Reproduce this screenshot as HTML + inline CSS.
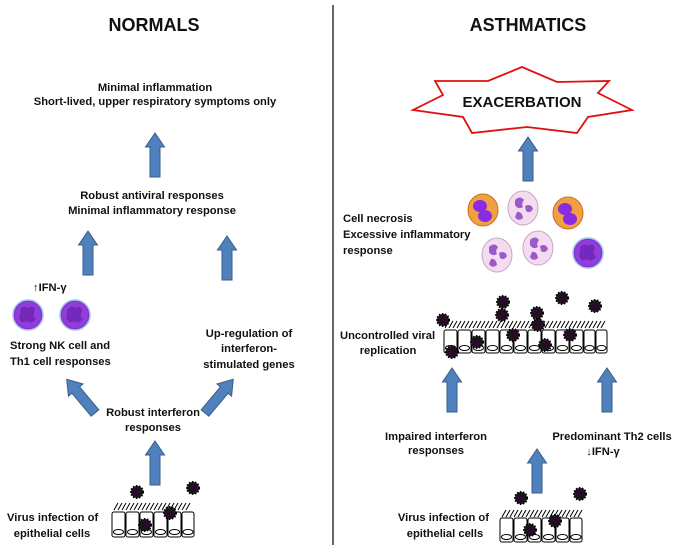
<!DOCTYPE html>
<html><head><meta charset="utf-8"><style>
html,body{margin:0;padding:0;background:#fff}
svg{display:block}
text{font-family:"Liberation Sans",sans-serif;font-weight:bold;fill:#111}
.t{font-size:11.2px}
</style></head><body>
<svg width="685" height="550" viewBox="0 0 685 550" xmlns="http://www.w3.org/2000/svg">
<defs>
<g id="ar"><path d="M-5,0 L-5,-30 L-9.5,-30 L0,-44 L9.5,-30 L5,-30 L5,0 Z" fill="#4f81bd" stroke="#385d8a" stroke-width="1"/></g>
<g id="vir"><circle r="6" fill="#1a1a1a" stroke="#000" stroke-width="2" stroke-dasharray="1.5 1.5"/><circle r="4" fill="#2a0a2a"/></g>
<g id="lym"><circle r="15" fill="#8a2be2" stroke="#9ec9e0" stroke-width="1.5"/><circle r="13" fill="#8f3fd8"/><path d="M-8,-5 q4,-6 8,-2 q6,-4 7,3 q-3,5 1,8 q-5,6 -9,2 q-6,4 -8,-4 q2,-4 1,-7z" fill="#6a1fb0" opacity="0.7"/></g>
<g id="neu"><ellipse rx="15" ry="17" fill="#f3dcef" stroke="#c8a6c4" stroke-width="1"/><path d="M-8,-8 q5,-5 9,0 q-3,4 -1,7 q-5,3 -8,-2z M2,-2 q6,-3 8,3 q-3,5 -7,2z M-6,4 q5,-1 6,6 q-5,4 -8,-1z" fill="#9b59c9"/></g>
<g id="eos"><ellipse rx="15" ry="16" fill="#f0a040" stroke="#c07020" stroke-width="1"/><ellipse cx="-3" cy="-4" rx="7" ry="6" fill="#8a2be2"/><ellipse cx="2" cy="6" rx="7" ry="6" fill="#8a2be2"/></g>
</defs>

<line x1="333" y1="5" x2="333" y2="545" stroke="#000" stroke-width="1.2"/>

<text x="154" y="31" text-anchor="middle" style="font-size:18px">NORMALS</text>
<text x="528" y="31" text-anchor="middle" style="font-size:18px">ASTHMATICS</text>

<!-- LEFT -->
<text class="t" x="155" y="91" text-anchor="middle">Minimal inflammation</text>
<text class="t" x="155" y="105" text-anchor="middle">Short-lived, upper respiratory symptoms only</text>
<use href="#ar" x="155" y="177"/>
<text class="t" x="152" y="199" text-anchor="middle">Robust  antiviral responses</text>
<text class="t" x="152" y="214" text-anchor="middle">Minimal inflammatory response</text>
<use href="#ar" x="88" y="275"/>
<use href="#ar" x="227" y="280"/>
<text class="t" x="33" y="291">↑IFN-γ</text>
<use href="#lym" x="28" y="315"/>
<use href="#lym" x="75" y="315"/>
<text class="t" x="10" y="349">Strong NK cell and</text>
<text class="t" x="10" y="365">Th1 cell responses</text>
<text class="t" x="249" y="337" text-anchor="middle">Up-regulation of</text>
<text class="t" x="249" y="352" text-anchor="middle">interferon-</text>
<text class="t" x="249" y="368" text-anchor="middle">stimulated genes</text>
<use href="#ar" transform="translate(95,413) rotate(-40)"/>
<use href="#ar" transform="translate(205,413) rotate(40)"/>
<text class="t" x="153" y="416" text-anchor="middle">Robust interferon</text>
<text class="t" x="153" y="431" text-anchor="middle">responses</text>
<use href="#ar" x="155" y="485"/>
<text class="t" x="7" y="521">Virus infection of</text>
<text class="t" x="52" y="537" text-anchor="middle">epithelial cells</text>
<g fill="#fff" stroke="#000" stroke-width="1">
<path d="M114,510 l4,-7 M118,510 l4,-7 M122,510 l4,-7 M126,510 l4,-7 M130,510 l4,-7 M134,510 l4,-7 M138,510 l4,-7 M142,510 l4,-7 M146,510 l4,-7 M150,510 l4,-7 M154,510 l4,-7 M158,510 l4,-7 M162,510 l4,-7 M166,510 l4,-7 M170,510 l4,-7 M174,510 l4,-7 M178,510 l4,-7 M182,510 l4,-7 M186,510 l4,-7"/>
<rect x="112" y="512" width="13" height="25" rx="2"/><rect x="126" y="512" width="13" height="25" rx="2"/><rect x="140" y="512" width="13" height="25" rx="2"/><rect x="154" y="512" width="13" height="25" rx="2"/><rect x="168" y="512" width="13" height="25" rx="2"/><rect x="182" y="512" width="12" height="25" rx="2"/>
<ellipse cx="118.5" cy="532" rx="5" ry="2.5"/><ellipse cx="132.5" cy="532" rx="5" ry="2.5"/><ellipse cx="146.5" cy="532" rx="5" ry="2.5"/><ellipse cx="160.5" cy="532" rx="5" ry="2.5"/><ellipse cx="174.5" cy="532" rx="5" ry="2.5"/><ellipse cx="188" cy="532" rx="5" ry="2.5"/>
</g>
<use href="#vir" x="137" y="492"/><use href="#vir" x="193" y="488"/><use href="#vir" x="170" y="513"/><use href="#vir" x="145" y="525"/>

<!-- RIGHT -->
<polygon points="522,67 557,82 609,81 598,93 632,110 588,117 577,133 527,127 472,133 463,117 413,110 443,95 435,81 488,81" fill="#fff" stroke="#e01010" stroke-width="1.8"/>
<text x="522" y="107" text-anchor="middle" style="font-size:15px">EXACERBATION</text>
<use href="#ar" x="528" y="181"/>
<text class="t" x="343" y="222">Cell necrosis</text>
<text class="t" x="343" y="238">Excessive inflammatory</text>
<text class="t" x="343" y="254">response</text>
<use href="#eos" x="483" y="210"/>
<use href="#neu" x="523" y="208"/>
<use href="#eos" x="568" y="213"/>
<use href="#neu" x="497" y="255"/>
<use href="#neu" x="538" y="248"/>
<use href="#lym" x="588" y="253"/>
<text class="t" x="340" y="339">Uncontrolled viral</text>
<text class="t" x="388" y="354" text-anchor="middle">replication</text>
<g fill="#fff" stroke="#000" stroke-width="1">
<path d="M445,328 l4,-7 M449,328 l4,-7 M453,328 l4,-7 M457,328 l4,-7 M461,328 l4,-7 M465,328 l4,-7 M469,328 l4,-7 M473,328 l4,-7 M477,328 l4,-7 M481,328 l4,-7 M485,328 l4,-7 M489,328 l4,-7 M493,328 l4,-7 M497,328 l4,-7 M501,328 l4,-7 M505,328 l4,-7 M509,328 l4,-7 M513,328 l4,-7 M517,328 l4,-7 M521,328 l4,-7 M525,328 l4,-7 M529,328 l4,-7 M533,328 l4,-7 M537,328 l4,-7 M541,328 l4,-7 M545,328 l4,-7 M549,328 l4,-7 M553,328 l4,-7 M557,328 l4,-7 M561,328 l4,-7 M565,328 l4,-7 M569,328 l4,-7 M573,328 l4,-7 M577,328 l4,-7 M581,328 l4,-7 M585,328 l4,-7 M589,328 l4,-7 M593,328 l4,-7 M597,328 l4,-7 M601,328 l4,-7"/>
<rect x="444" y="330" width="13" height="23" rx="2"/><rect x="458" y="330" width="13" height="23" rx="2"/><rect x="472" y="330" width="13" height="23" rx="2"/><rect x="486" y="330" width="13" height="23" rx="2"/><rect x="500" y="330" width="13" height="23" rx="2"/><rect x="514" y="330" width="13" height="23" rx="2"/><rect x="528" y="330" width="13" height="23" rx="2"/><rect x="542" y="330" width="13" height="23" rx="2"/><rect x="556" y="330" width="13" height="23" rx="2"/><rect x="570" y="330" width="13" height="23" rx="2"/><rect x="584" y="330" width="11" height="23" rx="2"/><rect x="596" y="330" width="11" height="23" rx="2"/>
<ellipse cx="450.5" cy="348" rx="5" ry="2.5"/><ellipse cx="464.5" cy="348" rx="5" ry="2.5"/><ellipse cx="478.5" cy="348" rx="5" ry="2.5"/><ellipse cx="492.5" cy="348" rx="5" ry="2.5"/><ellipse cx="506.5" cy="348" rx="5" ry="2.5"/><ellipse cx="520.5" cy="348" rx="5" ry="2.5"/><ellipse cx="534.5" cy="348" rx="5" ry="2.5"/><ellipse cx="548.5" cy="348" rx="5" ry="2.5"/><ellipse cx="562.5" cy="348" rx="5" ry="2.5"/><ellipse cx="576.5" cy="348" rx="5" ry="2.5"/><ellipse cx="589.5" cy="348" rx="4.5" ry="2.5"/><ellipse cx="601.5" cy="348" rx="4.5" ry="2.5"/>
</g>
<use href="#vir" x="443" y="320"/><use href="#vir" x="503" y="302"/><use href="#vir" x="502" y="315"/><use href="#vir" x="562" y="298"/><use href="#vir" x="595" y="306"/><use href="#vir" x="537" y="313"/><use href="#vir" x="538" y="325"/><use href="#vir" x="513" y="335"/><use href="#vir" x="477" y="342"/><use href="#vir" x="452" y="352"/><use href="#vir" x="545" y="345"/><use href="#vir" x="570" y="335"/>
<use href="#ar" x="452" y="412"/>
<use href="#ar" x="607" y="412"/>
<text class="t" x="436" y="440" text-anchor="middle">Impaired interferon</text>
<text class="t" x="436" y="454" text-anchor="middle">responses</text>
<text class="t" x="612" y="440" text-anchor="middle">Predominant Th2 cells</text>
<text class="t" x="603" y="455" text-anchor="middle">↓IFN-γ</text>
<use href="#ar" x="537" y="493"/>
<text class="t" x="489" y="521" text-anchor="end">Virus infection of</text>
<text class="t" x="445" y="537" text-anchor="middle">epithelial cells</text>
<g fill="#fff" stroke="#000" stroke-width="1">
<path d="M502,517 l4,-7 M506,517 l4,-7 M510,517 l4,-7 M514,517 l4,-7 M518,517 l4,-7 M522,517 l4,-7 M526,517 l4,-7 M530,517 l4,-7 M534,517 l4,-7 M538,517 l4,-7 M542,517 l4,-7 M546,517 l4,-7 M550,517 l4,-7 M554,517 l4,-7 M558,517 l4,-7 M562,517 l4,-7 M566,517 l4,-7 M570,517 l4,-7 M574,517 l4,-7 M578,517 l4,-7"/>
<rect x="500" y="518" width="13" height="24" rx="2"/><rect x="514" y="518" width="13" height="24" rx="2"/><rect x="528" y="518" width="13" height="24" rx="2"/><rect x="542" y="518" width="13" height="24" rx="2"/><rect x="556" y="518" width="13" height="24" rx="2"/><rect x="570" y="518" width="12" height="24" rx="2"/>
<ellipse cx="506.5" cy="537" rx="5" ry="2.5"/><ellipse cx="520.5" cy="537" rx="5" ry="2.5"/><ellipse cx="534.5" cy="537" rx="5" ry="2.5"/><ellipse cx="548.5" cy="537" rx="5" ry="2.5"/><ellipse cx="562.5" cy="537" rx="5" ry="2.5"/><ellipse cx="576" cy="537" rx="5" ry="2.5"/>
</g>
<use href="#vir" x="521" y="498"/><use href="#vir" x="580" y="494"/><use href="#vir" x="555" y="521"/><use href="#vir" x="530" y="530"/>
</svg>
</body></html>
